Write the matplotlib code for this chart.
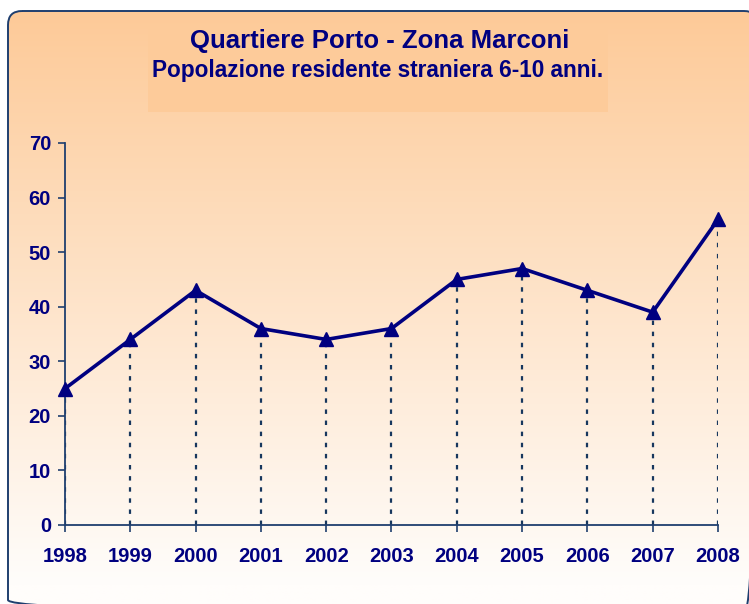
import numpy as np
import matplotlib
matplotlib.use("Agg")
import matplotlib.pyplot as plt
from matplotlib.patches import FancyBboxPatch, Rectangle

years = [1998, 1999, 2000, 2001, 2002, 2003, 2004, 2005, 2006, 2007, 2008]
values = [25, 34, 43, 36, 34, 36, 45, 47, 43, 39, 56]
yticks = [0, 10, 20, 30, 40, 50, 60, 70]
title = "Quartiere Porto - Zona Marconi"
subtitle = "Popolazione residente straniera 6-10 anni."

plt.rcParams['font.family'] = ['Liberation Sans', 'DejaVu Sans']
W, H = 749, 604
fig = plt.figure(figsize=(W / 100, H / 100), dpi=100)
fig.patch.set_facecolor('white')

# background
bg = fig.add_axes([0, 0, 1, 1])
bg.set_xlim(0, W)
bg.set_ylim(H, 0)
bg.axis('off')
top = np.array([253, 202, 152]) / 255
bot = np.array([255, 253, 251]) / 255
ys = np.linspace(0, 1, 300)[:, None]
t = np.clip(ys / 0.95, 0, 1)
grad = top[None, None, :] * (1 - t[..., None]) + bot[None, None, :] * t[..., None]
grad = np.repeat(grad, 2, axis=1)
box = FancyBboxPatch((8, 11), 750, 603, boxstyle="round,pad=0,rounding_size=14",
                     facecolor='none', edgecolor='#1F3F6F', linewidth=1.4, zorder=3)
bg.add_patch(box)
im = bg.imshow(grad, extent=[8, W + 12, H + 10, 11], aspect='auto', zorder=1,
               interpolation='bilinear')
im.set_clip_path(box)
bg.add_patch(Rectangle((148, 28), 460, 84, facecolor=(253/255, 203/255, 154/255),
                       edgecolor='none', zorder=2))
bg.text(380, 41, title, ha='center', va='center', fontsize=18.5, fontweight='bold',
        color='#000080', zorder=4)
bg.text(378, 71, subtitle, ha='center', va='center', fontsize=16.3, fontweight='bold',
        color='#000080', zorder=4)

# main axes
x0, x1 = 65, 718
y0, y1 = 525, 143
ax = fig.add_axes([x0 / W, 1 - y0 / H, (x1 - x0) / W, (y0 - y1) / H])
ax.patch.set_alpha(0)
ax.set_xlim(years[0], years[-1])
ax.set_ylim(0, 70)
ax.set_yticks(yticks)
ax.set_xticks(years)
ax.set_xticklabels([str(y) for y in years])
for s in ['top', 'right']:
    ax.spines[s].set_visible(False)
for s in ['left', 'bottom']:
    ax.spines[s].set_color('#1F3F6F')
    ax.spines[s].set_linewidth(1.3)
ax.tick_params(axis='both', colors='#1F3F6F', length=5, width=1.2, direction='out',
               labelcolor='#000080', labelsize=14.5)
ax.tick_params(axis='y', pad=5)
ax.tick_params(axis='x', pad=11)
for lab in ax.get_xticklabels() + ax.get_yticklabels():
    lab.set_fontweight('bold')
ax.vlines(years, 0, values, colors='#17375E', linestyles=(0, (2, 3)), linewidth=1.6, zorder=2)
ax.plot(years, values, color='#000080', linewidth=2.6, marker='^', markersize=10,
        clip_on=False, zorder=3)

fig.savefig('out.png', dpi=100, facecolor='white')
